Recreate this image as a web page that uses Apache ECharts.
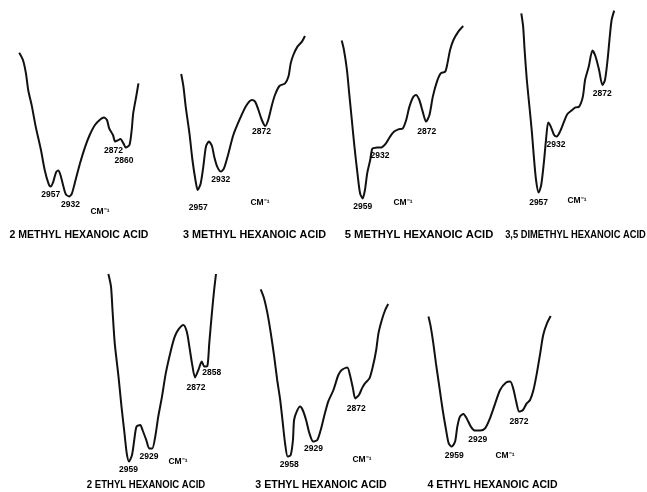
<!DOCTYPE html>
<html><head><meta charset="utf-8">
<script src="https://cdn.jsdelivr.net/npm/echarts@6/dist/echarts.min.js"></script>
<style>html,body{margin:0;padding:0;background:#fff}#c{width:647px;height:492px}</style>
</head><body><div id="c"></div><script>
// Wavenumber axis (cm-1) and % transmittance
const X_MIN = 2810, X_MAX = 3010;

const titles = ['2 METHYL HEXANOIC ACID','3 METHYL HEXANOIC ACID','5 METHYL HEXANOIC ACID','3,5 DIMETHYL HEXANOIC ACID','2 ETHYL HEXANOIC ACID','3 ETHYL HEXANOIC ACID','4 ETHYL HEXANOIC ACID'];
const unitLabel = 'CM⁻¹';

const methyl2 = [[2999,73.6],[2994,70],[2990,63.3],[2987,55],[2982,46.7],[2977,36.7],[2970,25],[2965,15],[2960,8.3],[2957,6.7],[2953.5,9.2],[2950,13.7],[2947,14.7],[2944,12.5],[2940,6.7],[2937,3],[2932.5,1.8],[2929,3],[2925,8.3],[2918,18.3],[2911,26.7],[2905,32.5],[2898,37.5],[2891,40.3],[2886,41.3],[2882,40],[2879,35.8],[2874,32.5],[2871,29.2],[2868,29.7],[2864,30.5],[2860,28.3],[2857,26.3],[2852,27.5],[2849,35],[2847,43.3],[2843,51.7],[2840,58.3]];
const methyl3 = [[2979,63],[2976,56.7],[2973,46.7],[2968,33.3],[2964,20],[2960,10],[2957,5],[2953,8.3],[2949.5,16.7],[2946,26.7],[2942,29.2],[2938,27],[2935,21.7],[2931,16.7],[2926,14.2],[2922,15.8],[2916,23.3],[2909.5,32.5],[2900.5,40.8],[2892.5,47],[2885,50],[2880.5,49.2],[2876,45],[2871.5,40],[2867,37],[2863,40],[2858,47.5],[2854,52.5],[2848,57],[2840.5,58.3],[2836,61.7],[2833,68.3],[2829.5,72.5],[2824,76.7],[2818,79.2],[2814,82]];
const methyl5 = [[2987,79.7],[2984,75],[2980,65],[2977,53.3],[2973.5,40],[2970,26.7],[2966,13.3],[2962.5,3.3],[2959,0.8],[2956,5],[2953,13.3],[2949,20],[2946,25.8],[2940,26.2],[2934,26.3],[2928,28.3],[2922.5,31.7],[2917,34.2],[2911.5,35.3],[2905.5,35.8],[2901,40],[2897,46.3],[2892,51.3],[2888,52.5],[2883.5,50],[2879,44.2],[2874.5,39.2],[2870,42.5],[2865.5,51.7],[2860,59.2],[2855,63.3],[2849,64.2],[2846,68.3],[2842.5,75],[2838,80],[2831.5,84.2],[2825,87]];
const dimethyl35 = [[2980.5,93.3],[2978,86.7],[2976,75],[2973,60],[2969,45],[2966,33.3],[2963.5,21.7],[2960.5,10],[2957,3.7],[2953.5,7.5],[2950,18.3],[2947,30],[2944,38.7],[2940.5,36.7],[2936,32.5],[2932.5,31.7],[2928,34.2],[2922.5,39.2],[2918,43],[2911.5,45],[2907,46.3],[2902,46.7],[2897,51.7],[2894,60],[2889,66.7],[2884,74.7],[2880,72],[2875,65],[2870.5,57.5],[2867,60],[2863.5,70],[2860.5,81.7],[2858,90],[2854.5,94.7]];
const ethyl2 = [[2986.5,95.5],[2983,89.2],[2981,77.5],[2978,60.8],[2973,44.2],[2969,29.2],[2965,15.8],[2962,5.8],[2959,1.7],[2955,5],[2952,12.5],[2949,19.2],[2944,20],[2941,17.5],[2936,12.5],[2932,8.3],[2928,8.3],[2924,14.2],[2920,24.2],[2915,34.2],[2910,45.8],[2903,57.5],[2898,64.2],[2893,67.8],[2886.5,70],[2882,66.7],[2878.5,59.2],[2875,50.8],[2871,43.8],[2866.5,47.5],[2862,51.7],[2858.5,49.2],[2854.5,49.5],[2852,60.8],[2848.5,75.8],[2845.5,87.5],[2843,95.5]];
const ethyl3 = [[2994,87.8],[2989.5,83.3],[2985,75.8],[2980.5,65.8],[2976,54.2],[2972,42.5],[2968,32.5],[2964.5,20.8],[2961.5,10.8],[2958,4.2],[2954,5],[2951,12.5],[2949.5,22.5],[2946,26.7],[2941.5,29.2],[2938,27.5],[2933.5,22.5],[2929,15.8],[2924,11.7],[2918.5,12.5],[2914,17.5],[2909.5,24.2],[2904,31.7],[2897,37.5],[2890.5,45],[2886,47.5],[2878.5,48.7],[2875,45],[2871,38.3],[2868,33.3],[2863,35],[2859,38.3],[2855,40.8],[2849,43.3],[2844.5,49.2],[2840,57.5],[2837,65.8],[2832.5,72.5],[2828,77.5],[2824,80.5]];
const ethyl4 = [[2990,74.2],[2987,69.2],[2983.5,60.8],[2980,50.8],[2975.5,39.2],[2971,27.5],[2966.5,17.5],[2963,10.8],[2959,9.2],[2954.5,11.7],[2951.5,19.2],[2948,24.2],[2943.5,25.5],[2939,23.3],[2933.5,19.2],[2928,17.2],[2921,17.2],[2914.5,18.3],[2908,23.3],[2901,30.8],[2894.5,37.5],[2886.5,41.2],[2881,41.7],[2877,38.3],[2873,31.7],[2869,26.7],[2864,27.5],[2859,30.8],[2854.5,32.5],[2850,37.5],[2845.5,45.8],[2841,55.8],[2837,65],[2832,70.8],[2827,74.5]];

const peaks2Methyl = [2957, 2932, 2872, 2860];
const peaks3Methyl = [2957, 2932, 2872];
const peaks5Methyl = [2959, 2932, 2872];
const peaks35Dimethyl = [2957, 2932, 2872];
const peaks2Ethyl = [2959, 2929, 2872, 2858];
const peaks3Ethyl = [2958, 2929, 2872];
const peaks4Ethyl = [2959, 2929, 2872];

// Layout (pixels)
const panels = [
  {data: methyl2, peaks: peaks2Methyl, left: 10.95, top: 0, off: [[0,8.5],[1,8.5],[-1,11.5],[0.5,17.5]], cm: [100,212], t: [79,235], sx: 1.0},
  {data: methyl3, peaks: peaks3Methyl, left: 157.95, top: 0, off: [[0.5,18],[4.3,15.2],[0,13]], cm: [260,203], t: [254.5,235], sx: 1.03},
  {data: methyl5, peaks: peaks5Methyl, left: 324.45, top: 0, off: [[0,8.5],[-3,10],[-1.3,13.8]], cm: [403,203], t: [419,235], sx: 1.07},
  {data: dimethyl35, peaks: peaks35Dimethyl, left: 499.55, top: 0, off: [[0,10.5],[-1,9],[1,14]], cm: [577,201], t: [575.5,235], sx: 0.89},
  {data: ethyl2, peaks: peaks2Ethyl, left: 90.75, top: 265, off: [[-0.5,8.5],[-2.5,8.5],[1.8,13.4],[7,6]], cm: [178,462], t: [146,485], sx: 0.91},
  {data: ethyl3, peaks: peaks3Ethyl, left: 248.7, top: 265, off: [[1.5,8.4],[4,15],[4,24]], cm: [362,460], t: [321,485], sx: 1.01},
  {data: ethyl4, peaks: peaks4Ethyl, left: 413.45, top: 265, off: [[2.6,8.7],[3.5,9.4],[2,17.2]], cm: [505,456], t: [492.5,485], sx: 1.0}
];
const PW = (X_MAX - X_MIN) * 0.75, PH = 200;

function interp(data, wn) {
  for (let i = 0; i < data.length - 1; i++) {
    const a = data[i], b = data[i + 1];
    if ((wn <= a[0] && wn >= b[0]) || (wn >= a[0] && wn <= b[0])) {
      if (a[0] === b[0]) return a[1];
      return a[1] + (b[1] - a[1]) * (wn - a[0]) / (b[0] - a[0]);
    }
  }
  return data[0][1];
}

const FONT = '"Liberation Sans", Arial, sans-serif';
const option = {animation: false, backgroundColor: '#fff', grid: [], xAxis: [], yAxis: [], series: [], graphic: []};
panels.forEach((p, i) => {
  option.grid.push({left: p.left, top: p.top, width: PW, height: PH});
  option.xAxis.push({type: 'value', gridIndex: i, min: X_MIN, max: X_MAX, inverse: true, show: false});
  option.yAxis.push({type: 'value', gridIndex: i, min: 0, max: 100, show: false});
  option.series.push({
    type: 'line', xAxisIndex: i, yAxisIndex: i, data: p.data, showSymbol: false, symbol: 'none',
    smooth: 0.25, clip: false, silent: true,
    lineStyle: {color: '#111', width: 2},
    markPoint: {
      symbol: 'circle', symbolSize: 1, silent: true, itemStyle: {color: 'rgba(0,0,0,0)'},
      data: p.peaks.map((wn, k) => ({
        coord: [wn, interp(p.data, wn)],
        label: {show: true, position: 'inside', formatter: String(wn), offset: p.off[k],
                color: '#000', fontSize: 8.5, fontWeight: 'bold', fontFamily: FONT}
      }))
    }
  });
  option.graphic.push({type: 'text', x: p.cm[0], y: p.cm[1], silent: true,
    style: {text: unitLabel, fill: '#000', font: 'bold 8.5px ' + FONT, textAlign: 'center', textVerticalAlign: 'middle', align: 'center', verticalAlign: 'middle'}});
  option.graphic.push({type: 'text', x: p.t[0], y: p.t[1], scaleX: p.sx, silent: true,
    style: {text: titles[i], fill: '#000', font: 'bold 10.5px ' + FONT, textAlign: 'center', textVerticalAlign: 'middle', align: 'center', verticalAlign: 'middle'}});
});

const chart = echarts.init(document.getElementById('c'), null, {renderer: 'canvas'});
chart.setOption(option);
</script></body></html>
